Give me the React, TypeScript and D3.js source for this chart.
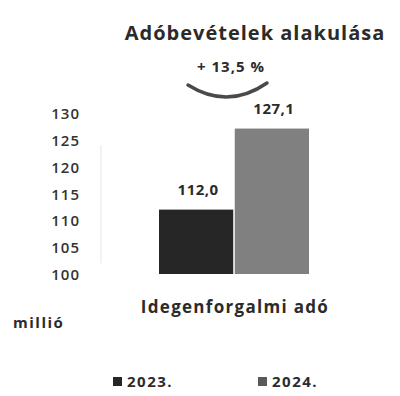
import { useEffect, useRef } from "react";
import * as d3 from "d3";

const categories = ["Idegenforgalmi adó"];
const seriesNames = ["2023.", "2024."];
const values = [112.0, 127.1];
const valueLabels = ["112,0", "127,1"];
const yTicks = [100, 105, 110, 115, 120, 125, 130];
const changeLabel = "+ 13,5 %";
const colors = ["#262626", "#808080"];
const legendColors = ["#262626", "#595959"];

const W = 400;
const H = 396;
const FONT = "'Open Sans', Lato, sans-serif";

export default function App() {
  const ref = useRef<SVGSVGElement>(null);

  useEffect(() => {
    const svg = d3.select(ref.current);
    svg.selectAll("*").remove();

    const y = d3.scaleLinear().domain([100, 130]).range([274, 113]);
    const x0 = d3.scaleBand().domain(categories).range([159, 309]).padding(0);
    const x1 = d3.scaleBand().domain(seriesNames).range([0, x0.bandwidth()]).paddingInner(0.02);

    // title
    svg.append("text")
      .attr("x", 255).attr("y", 40)
      .attr("text-anchor", "middle")
      .attr("fill", "#2b2b2b")
      .style("font", `bold 20px ${FONT}`)
      .style("letter-spacing", "1px")
      .text("Adóbevételek alakulása");

    // y tick labels
    svg.append("g")
      .selectAll("text")
      .data(yTicks)
      .join("text")
      .attr("x", 80).attr("y", (d) => y(d) + 6)
      .attr("text-anchor", "end")
      .attr("fill", "#333")
      .style("font", `600 15px ${FONT}`)
      .style("letter-spacing", "1px")
      .text((d) => d);

    // faint axis line
    svg.append("line")
      .attr("x1", 101).attr("x2", 101)
      .attr("y1", y(124)).attr("y2", y(102))
      .attr("stroke", "#e6e6e6").attr("stroke-width", 1);

    // bars
    const g = svg.append("g").attr("transform", `translate(${x0(categories[0])},0)`);
    g.selectAll("rect")
      .data(values)
      .join("rect")
      .attr("x", (_, i) => x1(seriesNames[i])!)
      .attr("width", x1.bandwidth())
      .attr("y", (d) => y(d))
      .attr("height", (d) => y(100) - y(d))
      .attr("fill", (_, i) => colors[i]);

    g.selectAll("text.val")
      .data(values)
      .join("text")
      .attr("class", "val")
      .attr("x", (_, i) => x1(seriesNames[i])! + x1.bandwidth() / 2 + 2)
      .attr("y", (d) => y(d) - 15)
      .attr("text-anchor", "middle")
      .attr("fill", "#2b2b2b")
      .style("font", `bold 15px ${FONT}`)
      .style("letter-spacing", "0.5px")
      .text((_, i) => valueLabels[i]);

    // change annotation
    svg.append("text")
      .attr("x", 231).attr("y", 72)
      .attr("text-anchor", "middle")
      .attr("fill", "#2b2b2b")
      .style("font", `bold 15px ${FONT}`)
      .style("letter-spacing", "1px")
      .text(changeLabel);

    svg.append("path")
      .attr("d", "M188,85 Q228,110 267,83")
      .attr("fill", "none")
      .attr("stroke", "#4a4a4a")
      .attr("stroke-width", 3.5)
      .attr("stroke-linecap", "round");

    // category label
    svg.append("text")
      .attr("x", 235).attr("y", 313)
      .attr("text-anchor", "middle")
      .attr("fill", "#2b2b2b")
      .style("font", `bold 17px ${FONT}`)
      .style("letter-spacing", "1.3px")
      .text(categories[0]);

    svg.append("text")
      .attr("x", 13).attr("y", 328)
      .attr("fill", "#2b2b2b")
      .style("font", `bold 15px ${FONT}`)
      .style("letter-spacing", "1.5px")
      .text("millió");

    // legend
    const legX = [113, 258];
    const lg = svg.append("g");
    seriesNames.forEach((name, i) => {
      lg.append("rect")
        .attr("x", legX[i]).attr("y", 377)
        .attr("width", 9).attr("height", 9)
        .attr("fill", legendColors[i]);
      lg.append("text")
        .attr("x", legX[i] + 14).attr("y", 387)
        .attr("fill", "#2b2b2b")
        .style("font", `bold 15px ${FONT}`)
        .style("letter-spacing", "1.5px")
        .text(name);
    });
  }, []);

  return (
    <svg
      ref={ref}
      width={W}
      height={H}
      style={{ position: "absolute", left: 0, top: 0, background: "#fff" }}
    />
  );
}
